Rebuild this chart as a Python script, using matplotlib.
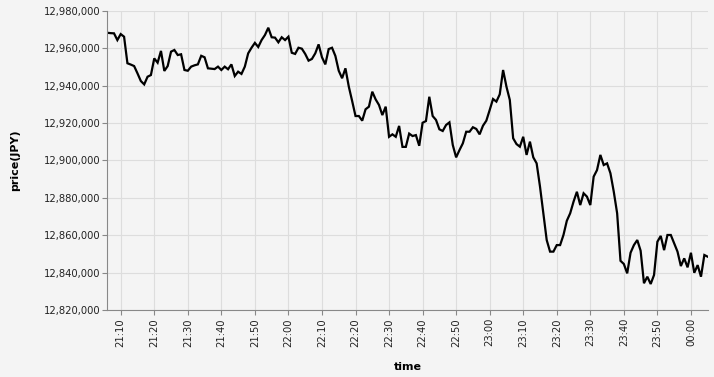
import numpy as np
import pandas as pd
import matplotlib
matplotlib.use("Agg")
from matplotlib import pyplot as plt
import matplotlib.dates as mdates
from matplotlib.ticker import FuncFormatter, MultipleLocator

# price in thousand JPY, one point per minute from 21:06
price_k = [
    12968.2, 12968.0, 12967.9, 12964.3, 12967.5, 12966.1, 12951.9, 12951.2, 12950.4, 12946.5,
    12942.4, 12940.6, 12944.7, 12945.6, 12954.5, 12952.2, 12958.5, 12947.8, 12950.4, 12958.1,
    12959.0, 12956.3, 12956.7, 12948.3, 12947.9, 12950.1, 12950.8, 12951.3, 12955.9, 12955.1,
    12949.2, 12949.0, 12948.8, 12950.1, 12948.3, 12950.1, 12948.7, 12951.3, 12945.1, 12947.4,
    12946.2, 12950.1, 12957.2, 12960.2, 12962.8, 12960.6, 12964.3, 12967.0, 12970.9, 12965.8,
    12965.6, 12963.1, 12965.8, 12964.3, 12966.1, 12957.5, 12956.9, 12960.2, 12959.7, 12956.9,
    12953.3, 12954.2, 12957.2, 12962.0, 12955.1, 12951.3, 12959.5, 12960.2, 12955.8, 12947.9,
    12943.9, 12949.2, 12939.4, 12931.7, 12923.7, 12923.7, 12921.2, 12927.3, 12928.7, 12936.7,
    12932.6, 12929.6, 12924.2, 12928.7, 12912.6, 12913.9, 12912.6, 12918.4, 12907.2, 12907.2,
    12914.3, 12913.0, 12913.5, 12907.8, 12920.1, 12921.0, 12934.0, 12923.7, 12921.6, 12916.6,
    12915.7, 12918.9, 12920.3, 12908.2, 12901.6, 12905.5, 12909.1, 12915.3, 12915.3, 12917.7,
    12916.8, 12913.9, 12918.5, 12921.2, 12926.9, 12932.8, 12931.4, 12935.3, 12948.3, 12939.4,
    12932.3, 12911.8, 12908.7, 12907.3, 12912.6, 12902.9, 12910.0, 12901.6, 12898.4, 12886.0,
    12871.7, 12857.4, 12851.2, 12851.2, 12854.7, 12854.7, 12860.1, 12867.7, 12871.7, 12877.9,
    12883.2, 12876.1, 12882.4, 12880.6, 12876.1, 12891.3, 12894.8, 12902.9, 12897.5, 12898.4,
    12893.1, 12883.2, 12871.7, 12846.3, 12844.6, 12839.6, 12850.6, 12854.7, 12857.4, 12851.7,
    12834.3, 12837.8, 12833.9, 12838.7, 12856.5, 12859.6, 12852.0, 12860.1, 12860.1, 12855.6,
    12851.2, 12843.5, 12847.6, 12842.8, 12850.6, 12839.9, 12844.0, 12837.8, 12849.4, 12848.5,
]
price = np.array(price_k) * 1000
times = pd.date_range("2018-03-01 21:06", periods=len(price), freq="min")

bg = "#f4f4f4"
fig = plt.figure(figsize=(7.14, 3.77), dpi=100, facecolor=bg)
ax = fig.add_axes([107.3 / 714, (377 - 310) / 377, 600.4 / 714, 299.3 / 377])
ax.set_facecolor(bg)

ax.plot(times, price, color="black", lw=1.6, solid_joinstyle="miter")

ax.set_xlim(times[0], times[-1])
ax.set_ylim(12820000, 12980000)

ax.xaxis.set_major_locator(mdates.MinuteLocator(byminute=range(0, 60, 10)))
ax.xaxis.set_major_formatter(mdates.DateFormatter("%H:%M"))
ax.yaxis.set_major_locator(MultipleLocator(20000))
ax.yaxis.set_major_formatter(FuncFormatter(lambda v, p: f"{v:,.0f}"))

ax.grid(True, color="#dddddd", lw=0.8)
ax.set_axisbelow(True)
for s in ["top", "right"]:
    ax.spines[s].set_visible(False)
for s in ["left", "bottom"]:
    ax.spines[s].set_color("#888888")
    ax.spines[s].set_linewidth(0.8)

# 5px ticks, labels close to the ticks
ax.tick_params(axis="both", colors="#888888", length=3.6, width=0.8, labelsize=7.2,
               labelcolor="#222222")
ax.tick_params(axis="y", pad=1.5)
ax.tick_params(axis="x", pad=2.2)
plt.setp(ax.get_xticklabels(), rotation=90)

ax.set_xlabel("time", fontsize=8, fontweight="bold", labelpad=11)
ax.set_ylabel("price(JPY)", fontsize=8, fontweight="bold", labelpad=17)

fig.savefig("out.png", dpi=100, facecolor=bg)
